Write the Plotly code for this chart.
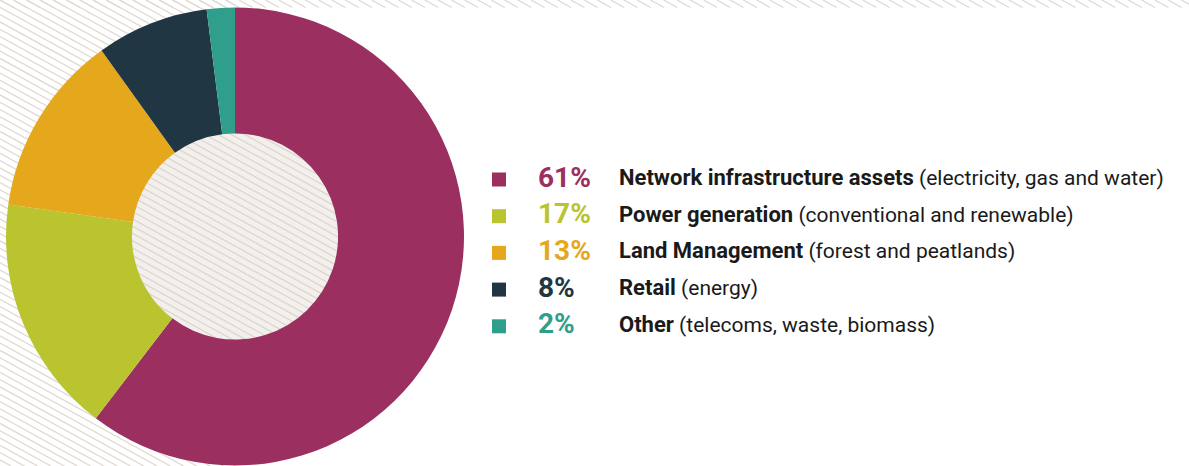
import numpy as np
import plotly.graph_objects as go

# ---- data ----
categories = ["Network infrastructure assets", "Power generation", "Land Management", "Retail", "Other"]
details = ["(electricity, gas and water)", "(conventional and renewable)", "(forest and peatlands)", "(energy)", "(telecoms, waste, biomass)"]
values = [61, 17, 13, 8, 2]
colors = ["#9b2f5f", "#b9c42f", "#e5a71b", "#213643", "#2f9e8a"]

W, H = 1189, 466
CX, CY, R = 235.0, 236.5, 229.0
HOLE = 0.45
HATCH_S = 0.55      # slope (down-right)
HATCH_P = 7.3       # vertical period

def rect_hatch(x0, x1, y0, y1):
    xs, ys = [], []
    cmin = y0 - HATCH_S * x1 - HATCH_P
    cmax = y1 - HATCH_S * x0 + HATCH_P
    for c in np.arange(np.floor(cmin / HATCH_P) * HATCH_P, cmax, HATCH_P):
        a = max(x0, (y0 - c) / HATCH_S)
        b = min(x1, (y1 - c) / HATCH_S)
        if b > a:
            xs += [a, b, None]
            ys += [HATCH_S * a + c, HATCH_S * b + c, None]
    return xs, ys

def circle_hatch(cx, cy, r):
    xs, ys = [], []
    for c in np.arange(np.floor((cy - HATCH_S * cx - 2 * r) / HATCH_P) * HATCH_P, cy - HATCH_S * cx + 2 * r, HATCH_P):
        A = 1 + HATCH_S ** 2
        B = -2 * cx + 2 * HATCH_S * (c - cy)
        C = cx ** 2 + (c - cy) ** 2 - r ** 2
        d = B * B - 4 * A * C
        if d <= 0:
            continue
        a = (-B - np.sqrt(d)) / (2 * A)
        b = (-B + np.sqrt(d)) / (2 * A)
        xs += [a, b, None]
        ys += [HATCH_S * a + c, HATCH_S * b + c, None]
    return xs, ys

fig = go.Figure()

# hatched background regions
hx1, hy1 = rect_hatch(0, CX, 0, H)
hx2, hy2 = rect_hatch(0, W, 0, 7.5)
fig.add_trace(go.Scatter(x=hx1 + hx2, y=hy1 + hy2, mode="lines",
                         line=dict(color="#e1d9d0", width=1.3), hoverinfo="skip", showlegend=False))

# hole background
t = np.linspace(0, 2 * np.pi, 200)
hr = R * HOLE + 1.5
fig.add_trace(go.Scatter(x=CX + hr * np.cos(t), y=CY + hr * np.sin(t), mode="lines", fill="toself",
                         fillcolor="#f2efec", line=dict(width=0), hoverinfo="skip", showlegend=False))
cx_, cy_ = circle_hatch(CX, CY, hr)
fig.add_trace(go.Scatter(x=cx_, y=cy_, mode="lines",
                         line=dict(color="#ddd6ce", width=1.3), hoverinfo="skip", showlegend=False))

# donut
fig.add_trace(go.Pie(
    values=values, labels=categories, marker=dict(colors=colors, line=dict(width=0)),
    hole=HOLE, sort=False, direction="clockwise", rotation=0,
    textinfo="none", hoverinfo="label+percent", showlegend=False,
    domain=dict(x=[(CX - R) / W, (CX + R) / W], y=[1 - (CY + R) / H, 1 - (CY - R) / H]),
))

# legend
row_y = [179.5, 216.2, 252.9, 289.6, 326.3]
fig.add_trace(go.Scatter(x=[499] * len(values), y=row_y, mode="markers",
                         marker=dict(symbol="square", size=14, color=colors, line=dict(width=0)),
                         hoverinfo="skip", showlegend=False))
for yv, v, col, cat, det in zip(row_y, values, colors, categories, details):
    fig.add_annotation(x=536, y=yv - 2.5, xref="x", yref="y", text=f"<b>{v}%</b>", showarrow=False,
                       xanchor="left", yanchor="middle",
                       font=dict(family="Roboto", size=28, color=col))
    fig.add_annotation(x=617, y=yv - 2, xref="x", yref="y",
                       text=f"<b><span style='font-size:22px'>{cat}</span></b> {det}", showarrow=False,
                       xanchor="left", yanchor="middle",
                       font=dict(family="Roboto", size=21, color="#1a1a1a"))

fig.update_layout(
    width=W, height=H, margin=dict(l=0, r=0, t=0, b=0),
    paper_bgcolor="white", plot_bgcolor="white",
    xaxis=dict(range=[0, W], visible=False, fixedrange=True),
    yaxis=dict(range=[H, 0], visible=False, fixedrange=True),
)

fig.write_html("out.html")
